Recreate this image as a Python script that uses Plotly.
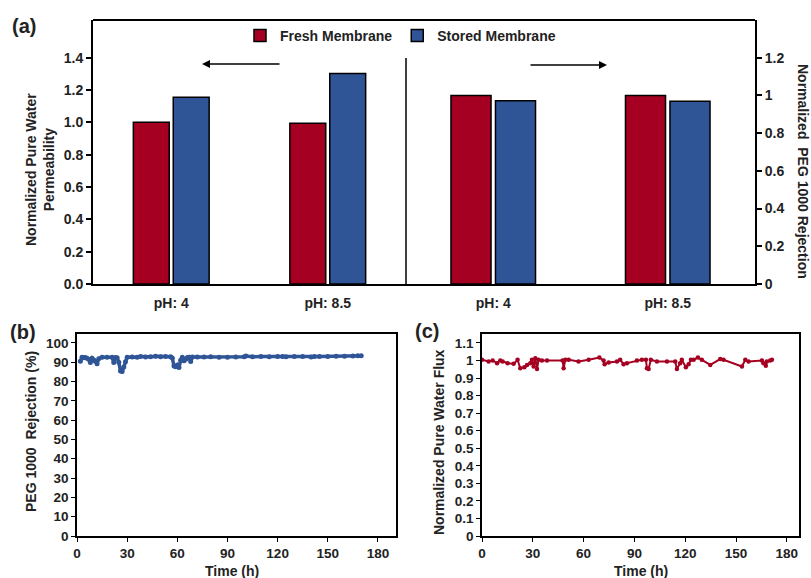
import plotly.graph_objects as go

W, H = 811, 578

# ---------------- data ----------------
ph_labels = ["pH: 4", "pH: 8.5"]
perm_fresh = [1.0, 0.995]
perm_stored = [1.155, 1.303]
rej_fresh = [1.0, 1.0]
rej_stored = [0.972, 0.969]

t_b = [2, 3, 4, 5, 6, 7, 8, 9, 10, 11, 12, 13, 15, 18, 21, 22, 23, 24, 25, 26,
       27, 28, 29, 30, 33, 36, 38, 41, 44, 47, 50, 53, 56, 57, 58, 59, 60, 61, 62, 63,
       64, 65, 66, 67, 68, 69, 72, 76, 80, 85, 90, 95, 100, 101, 105, 110, 115, 120, 123, 125,
       130, 135, 140, 142, 145, 150, 155, 160, 165, 168, 170]
rejection = [90.5, 92.5, 92.3, 92.4, 92.0, 91.5, 89.8, 92.0, 91.2, 90.5,
             89.2, 91.8, 92.6, 92.5, 92.6, 89.8, 92.4, 92.3, 90.0, 85.5,
             85.2, 87.5, 90.2, 92.6, 92.7, 92.6, 93.0, 92.7, 92.8, 93.1,
             92.8, 92.9, 92.8, 92.2, 88.0, 87.6, 88.5, 87.2, 91.0, 92.5,
             90.8, 91.5, 92.4, 92.6, 90.3, 92.7, 92.7, 92.7, 92.8, 92.6,
             92.6, 92.7, 92.8, 93.2, 92.8, 92.9, 92.8, 92.9, 93.0, 92.8,
             92.9, 92.9, 92.7, 93.0, 93.0, 93.0, 93.1, 93.1, 93.2, 93.4, 93.3]

t_c = [0, 3.9, 6.3, 8.9, 10.8, 12.2, 15.1, 18.7, 21.0, 22.6,
       25.0, 26.6, 28.5, 29.5, 30.5, 31.5, 32.5, 33.4, 35.4, 38.4,
       47.6, 48.2, 49.2, 51.2, 57.0, 63.0, 69.3, 71.8, 72.4, 74.8,
       79.7, 81.6, 83.6, 85.6, 91.5, 94.4, 96.8, 97.4, 98.4, 99.7,
       103.3, 109.2, 114.1, 115.1, 117.0, 118.0, 120.4, 122.0, 123.4, 125.0,
       127.5, 129.8, 134.8, 140.7, 142.6, 153.5, 155.5, 157.4, 165.3, 166.2,
       167.6, 168.2, 170.2, 171.2]
flux = [1.004, 0.994, 1.0, 0.985, 1.0, 0.994, 0.985, 0.981, 1.004, 0.956,
        0.962, 0.975, 0.985, 1.004, 0.966, 1.013, 0.951, 1.004, 1.0, 1.0,
        1.0, 0.956, 1.004, 1.004, 0.994, 1.004, 1.017, 1.0, 0.979, 0.989,
        0.994, 1.004, 0.979, 0.985, 1.0, 1.004, 1.004, 0.956, 0.951, 1.004,
        0.994, 0.994, 0.994, 0.951, 0.985, 1.004, 0.962, 0.979, 1.004, 1.004,
        1.017, 1.004, 0.975, 1.008, 1.004, 0.966, 1.004, 0.994, 1.0, 0.985,
        0.970, 0.994, 1.0, 1.004]

left_ticks = [0, 0.2, 0.4, 0.6, 0.8, 1.0, 1.2, 1.4]
right_ticks = [0, 0.2, 0.4, 0.6, 0.8, 1.0, 1.2]

RED = "#A50021"
BLUE = "#2F5597"
FONT = "Liberation Sans, Arial, sans-serif"


def px(x):
    return x / W


def py(y):
    return 1 - y / H


fig = go.Figure()

bar_line = dict(color="black", width=1.5)
fig.add_trace(go.Bar(x=ph_labels, y=perm_fresh, name="Fresh Membrane", marker=dict(color=RED, line=bar_line),
                     xaxis="x", yaxis="y", legendgroup="f"))
fig.add_trace(go.Bar(x=ph_labels, y=perm_stored, name="Stored Membrane", marker=dict(color=BLUE, line=bar_line),
                     xaxis="x", yaxis="y", legendgroup="s"))
fig.add_trace(go.Bar(x=ph_labels, y=rej_fresh, name="Fresh Membrane", marker=dict(color=RED, line=bar_line),
                     xaxis="x2", yaxis="y2", legendgroup="f", showlegend=False))
fig.add_trace(go.Bar(x=ph_labels, y=rej_stored, name="Stored Membrane", marker=dict(color=BLUE, line=bar_line),
                     xaxis="x2", yaxis="y2", legendgroup="s", showlegend=False))

fig.add_trace(go.Scatter(x=t_b, y=rejection, mode="lines+markers", line=dict(color=BLUE, width=3.5),
                         marker=dict(color=BLUE, size=5), xaxis="x3", yaxis="y3", showlegend=False))
fig.add_trace(go.Scatter(x=t_c, y=flux, mode="lines+markers", line=dict(color=RED, width=2),
                         marker=dict(color=RED, size=4.5), xaxis="x4", yaxis="y4", showlegend=False))

tickfont_a = dict(family=FONT, size=14, color="#222", weight="bold")
tickfont_b = dict(family=FONT, size=13.5, color="#222", weight="bold")

ya_dom = [py(284), py(20)]
yb_dom = [py(536), py(334)]

common = dict(automargin=False, showgrid=False, zeroline=False, showline=True, linecolor="black")
cat_ticks = dict(ticks="outside", ticklen=5, tickcolor="rgba(0,0,0,0)")

fig.update_layout(
    width=W, height=H,
    margin=dict(l=0, r=0, t=0, b=0, autoexpand=False),
    paper_bgcolor="white", plot_bgcolor="white",
    font=dict(family=FONT, color="#222", weight="bold"),
    barmode="group", bargap=0.49, bargroupgap=0.1,
    showlegend=True,
    legend=dict(orientation="h", x=px(240), y=py(36), xanchor="left", yanchor="middle",
                font=dict(family=FONT, size=14, color="#222", weight="bold"),
                bgcolor="rgba(0,0,0,0)", itemclick=False, traceorder="normal"),
    xaxis=dict(domain=[px(93), px(406)], anchor="y", linewidth=2, tickfont=tickfont_a, **cat_ticks, **common),
    yaxis=dict(domain=ya_dom, anchor="x", range=[0, 1.6333], tickvals=left_ticks, tickformat=".1f",
               linewidth=2, ticks="outside", ticklen=5, tickwidth=1.5, tickcolor="black", tickfont=tickfont_a,
               **common),
    xaxis2=dict(domain=[px(406), px(755)], anchor="y2", linewidth=2, tickfont=tickfont_a, **cat_ticks, **common),
    yaxis2=dict(domain=ya_dom, anchor="x2", side="right", range=[0, 1.4], tickvals=right_ticks,
                linewidth=2, ticks="outside", ticklen=5, tickwidth=1.5, tickcolor="black", tickfont=tickfont_a,
                **common),
    xaxis3=dict(domain=[px(77), px(396)], anchor="y3", range=[0, 190.8], dtick=30, mirror=True, linewidth=1.5,
                ticks="outside", ticklen=4, tickcolor="black", tickfont=tickfont_b, **common),
    yaxis3=dict(domain=yb_dom, anchor="x3", range=[0, 104.6], dtick=10, mirror=True, linewidth=1.5,
                ticks="outside", ticklen=4, tickcolor="black", tickfont=tickfont_b, **common),
    xaxis4=dict(domain=[px(482), px(799)], anchor="y4", range=[0, 187.2], dtick=30, mirror=True, linewidth=1.5,
                ticks="outside", ticklen=4, tickcolor="black", tickfont=tickfont_b, **common),
    yaxis4=dict(domain=yb_dom, anchor="x4", range=[0, 1.151], dtick=0.1, mirror=True, linewidth=1.5,
                ticks="outside", ticklen=4, tickcolor="black", tickfont=tickfont_b, **common),
)

# frame top of panel (a) and divider
fig.add_shape(type="line", xref="paper", yref="paper", x0=px(93), x1=px(755), y0=py(20), y1=py(20),
              line=dict(color="black", width=2))
fig.add_shape(type="line", xref="paper", yref="paper", x0=px(406), x1=px(406), y0=py(58), y1=py(284),
              line=dict(color="black", width=1.5))

ann = []
def text(x, y, s, size, angle=0, xanchor="center", yanchor="middle"):
    ann.append(dict(x=px(x), y=py(y), xref="paper", yref="paper", text=s, showarrow=False,
                    textangle=angle, xanchor=xanchor, yanchor=yanchor,
                    font=dict(family=FONT, size=size, color="#222", weight="bold")))

text(24, 26, "(a)", 20)
text(23, 332, "(b)", 20)
text(427, 331, "(c)", 20)
text(40, 170, "Normalized Pure Water<br>Permeability", 14, angle=-90)
text(803, 171, "Normalized  PEG 1000 Rejection", 14, angle=90)
text(31, 432, "PEG 1000  Rejection (%)", 14, angle=-90)
text(439, 442, "Normalized Pure Water Flux", 14, angle=-90)
text(232, 571, "Time (h)", 14)
text(641, 571, "Time (h)", 14)

# arrows
ann.append(dict(x=px(202), y=py(64), xref="paper", yref="paper", ax=79, ay=0, text="", showarrow=True,
                arrowhead=2, arrowsize=1, arrowwidth=1.6, arrowcolor="black"))
ann.append(dict(x=px(607), y=py(65), xref="paper", yref="paper", ax=-78, ay=0, text="", showarrow=True,
                arrowhead=2, arrowsize=1, arrowwidth=1.6, arrowcolor="black"))

fig.update_layout(annotations=ann)

fig.write_html("out.html", post_script="document.body.style.margin='0';",
               config={"displayModeBar": False})
